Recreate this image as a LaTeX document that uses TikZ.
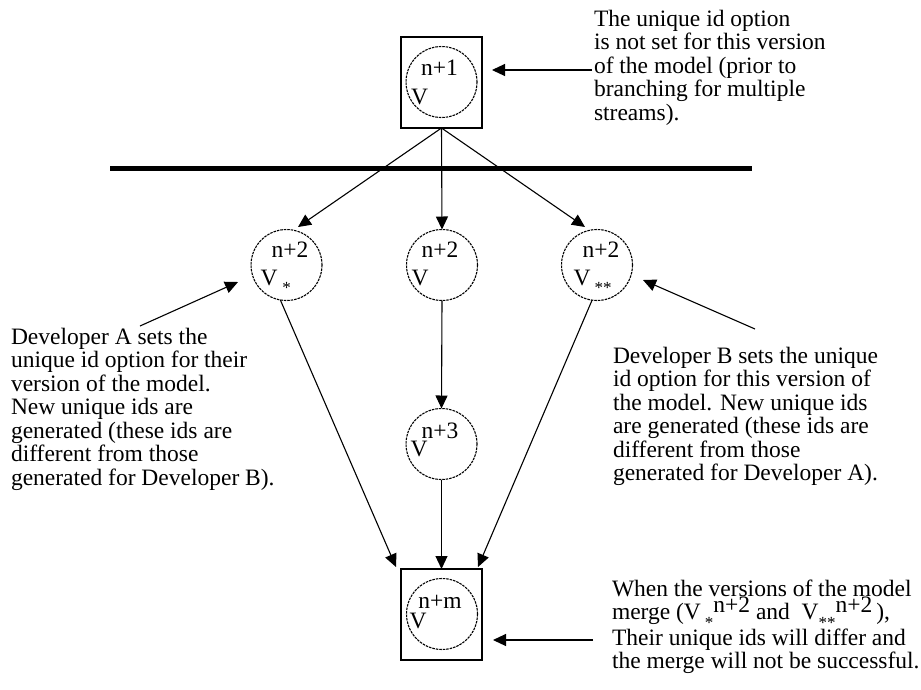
\documentclass[tikz,border=0pt]{standalone}
\usepackage{fontspec}
\setmainfont{Liberation Serif}
\usetikzlibrary{arrows.meta}
\begin{document}
\begin{tikzpicture}[x=1pt,y=-1pt,
  every node/.style={inner sep=0pt, outer sep=0pt},
  vcirc/.style={circle, draw, dash pattern=on 2.5pt off 1pt, line width=1.1pt, minimum size=71pt},
  vbox/.style={rectangle, draw, line width=1.3pt, minimum width=81pt, minimum height=91pt},
  conn/.style={line width=1.1pt, -{Triangle[length=13pt,width=12pt]}},
  lbl/.style={font=\fontsize{23.5}{23.5}\selectfont},
  star/.style={font=\fontsize{17}{17}\selectfont},
  note/.style={font=\fontsize{23.5}{23.5}\selectfont, anchor=base west},
  heavy/.style={line width=5pt},
]
\useasboundingbox (0,0) rectangle (921,689);

% horizontal bar
\coordinate (hl) at (110,168);
\coordinate (hr) at (752,168);
\draw[heavy] (hl) -- (hr);

% top version
\node[vbox] (box1) at (441.5,82.5) {};
\node[vcirc] (v1) at (441.5,82) {};
\node[lbl] (v1a) at ([shift={(-2,-14)}]v1.center) {n+1};
\node[lbl] (v1b) at ([shift={(-22,15)}]v1.center) {V};

% n+2 versions
\node[vcirc] (c2a) at (286.5,265) {};
\node[lbl] (c2at) at ([shift={(3.5,-15)}]c2a.center) {n+2};
\node[lbl] (c2av) at ([shift={(-17.5,13)}]c2a.center) {V};
\node[star] (c2as) at ([shift={(0,23)}]c2a.center) {*};

\node[vcirc] (c2b) at (442,265) {};
\node[lbl] (c2bt) at ([shift={(-2,-15)}]c2b.center) {n+2};
\node[lbl] (c2bv) at ([shift={(-22,13)}]c2b.center) {V};

\node[vcirc] (c2c) at (597,265) {};
\node[lbl] (c2ct) at ([shift={(4,-15)}]c2c.center) {n+2};
\node[lbl] (c2cv) at ([shift={(-15,13)}]c2c.center) {V};
\node[star] (c2cs) at ([shift={(6,23)}]c2c.center) {**};

% n+3
\node[vcirc] (c3) at (441.5,444) {};
\node[lbl] (c3t) at ([shift={(-1.5,-13)}]c3.center) {n+3};
\node[lbl] (c3v) at ([shift={(-22.5,5)}]c3.center) {V};

% n+m
\node[vbox] (box4) at (441.5,614.5) {};
\node[vcirc] (c4) at (442,614) {};
\node[lbl] (c4t) at ([shift={(-2,-12)}]c4.center) {n+m};
\node[lbl] (c4v) at ([shift={(-24,7)}]c4.center) {V};

% branch connectors
\coordinate (t2a) at (298,227);
\coordinate (t2c) at (585,227);
\draw[conn] (box1.south) -- (t2a);
\draw[conn] (box1.south) -- (c2b.north);
\draw[conn] (box1.south) -- (t2c);

% merge connectors
\coordinate (m4a) at (396,567);
\coordinate (m4c) at (478,567);
\draw[conn] (c2a.-100) -- (m4a);
\draw[conn] (c2b.south) -- (c3.north);
\draw[conn] (c3.south) -- (box4.north);
\draw[conn] (c2c.-98) -- (m4c);

% annotation arrows
\coordinate (n1s) at (592,70);
\coordinate (n1e) at (492,70);
\draw[conn] (n1s) -- (n1e);
\coordinate (n2s) at (140,326);
\coordinate (n2e) at (238,282);
\draw[conn] (n2s) -- (n2e);
\coordinate (n3s) at (755,329);
\coordinate (n3e) at (643,280);
\draw[conn] (n3s) -- (n3e);
\coordinate (n4s) at (593,640);
\coordinate (n4e) at (493,640);
\draw[conn] (n4s) -- (n4e);

% annotations
\node[note] (txt1) at (594,26) {\begin{tabular}[t]{@{}l@{}}The unique id option\\ is not set for this version\\ of the model (prior to\\ branching for multiple\\ streams).\end{tabular}};
\node[note] (txt2) at (11,344) {\begin{tabular}[t]{@{}l@{}}Developer A sets the\\ unique id option for their\\ version of the model.\\ New unique ids are\\ generated (these ids are\\ different from those\\ generated for Developer B).\end{tabular}};
\node[note] (txt3) at (613,363) {\begin{tabular}[t]{@{}l@{}}Developer B sets the unique\\ id option for this version of\\ the model. New unique ids\\ are generated (these ids are\\ different from those\\ generated for Developer A).\end{tabular}};
\node[note] (txt4) at (612,596) {\begin{tabular}[t]{@{}l@{}}When the versions of the model\\ merge (V\,\raisebox{-9pt}{\fontsize{17}{17}\selectfont *}\smash{\raisebox{7pt}{n+2}} and \ V\raisebox{-9pt}{\fontsize{17}{17}\selectfont **}\smash{\raisebox{7pt}{n+2}}\,),\\ Their unique ids will differ and\\ the merge will not be successful.\end{tabular}};
\end{tikzpicture}
\end{document}
